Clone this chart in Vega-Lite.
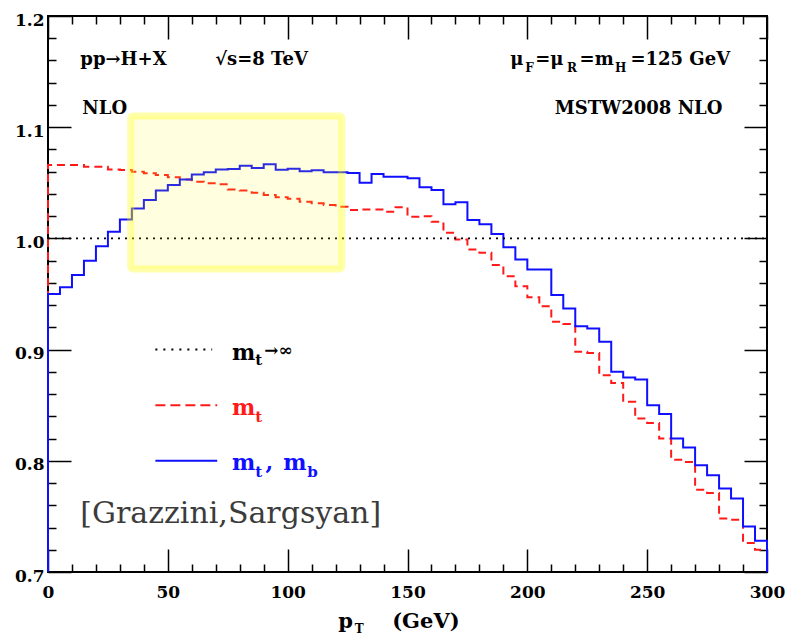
{
  "$schema": "https://vega.github.io/schema/vega-lite/v6.json",
  "width": 719,
  "height": 556,
  "autosize": {"type": "none"},
  "padding": {"left": 48, "top": 16, "right": 20, "bottom": 66},
  "background": "white",
  "config": {
    "view": {"stroke": "black", "strokeWidth": 2},
    "axis": {"domain": false, "grid": false, "title": null, "tickColor": "black", "tickWidth": 1.5, "labelFont": "DejaVu Serif", "labelFontWeight": "bold", "labelFontSize": 17, "labelColor": "black", "labelFlush": false, "labelOverlap": false},
    "text": {"font": "DejaVu Serif"}
  },
  "resolve": {"axis": {"x": "independent", "y": "independent"}},
  "datasets": {
    "red": [
      {"i":0,"x":0,"y":0.7},{"i":1,"x":0,"y":1.066},{"i":2,"x":5,"y":1.066},{"i":3,"x":10,"y":1.066},{"i":4,"x":15,"y":1.0645},{"i":5,"x":20,"y":1.0645},{"i":6,"x":25,"y":1.062},{"i":7,"x":30,"y":1.0615},{"i":8,"x":35,"y":1.060},{"i":9,"x":40,"y":1.0585},{"i":10,"x":45,"y":1.057},{"i":11,"x":50,"y":1.055},{"i":12,"x":55,"y":1.053},{"i":13,"x":60,"y":1.051},{"i":14,"x":65,"y":1.0495},{"i":15,"x":70,"y":1.0486},{"i":16,"x":75,"y":1.044},{"i":17,"x":80,"y":1.043},{"i":18,"x":85,"y":1.041},{"i":19,"x":90,"y":1.039},{"i":20,"x":95,"y":1.037},{"i":21,"x":100,"y":1.0357},{"i":22,"x":105,"y":1.033},{"i":23,"x":110,"y":1.0316},{"i":24,"x":115,"y":1.030},{"i":25,"x":120,"y":1.0285},{"i":26,"x":125,"y":1.0255},{"i":27,"x":130,"y":1.026},{"i":28,"x":135,"y":1.026},{"i":29,"x":140,"y":1.024},{"i":30,"x":145,"y":1.028},{"i":31,"x":150,"y":1.0195},{"i":32,"x":155,"y":1.020},{"i":33,"x":160,"y":1.015},{"i":34,"x":165,"y":1.005},{"i":35,"x":170,"y":0.999},{"i":36,"x":175,"y":0.990},{"i":37,"x":180,"y":0.987},{"i":38,"x":185,"y":0.976},{"i":39,"x":190,"y":0.966},{"i":40,"x":195,"y":0.957},{"i":41,"x":200,"y":0.947},{"i":42,"x":205,"y":0.939},{"i":43,"x":210,"y":0.925},{"i":44,"x":215,"y":0.923},{"i":45,"x":220,"y":0.898},{"i":46,"x":225,"y":0.897},{"i":47,"x":230,"y":0.877},{"i":48,"x":235,"y":0.870},{"i":49,"x":240,"y":0.853},{"i":50,"x":245,"y":0.838},{"i":51,"x":250,"y":0.834},{"i":52,"x":255,"y":0.820},{"i":53,"x":260,"y":0.801},{"i":54,"x":265,"y":0.799},{"i":55,"x":270,"y":0.774},{"i":56,"x":275,"y":0.771},{"i":57,"x":280,"y":0.748},{"i":58,"x":285,"y":0.747},{"i":59,"x":290,"y":0.726},{"i":60,"x":295,"y":0.720},{"i":61,"x":300,"y":0.720},{"i":62,"x":300,"y":0.7}
    ],
    "blue": [
      {"i":0,"x":0,"y":0.7},{"i":1,"x":0,"y":0.950},{"i":2,"x":5,"y":0.956},{"i":3,"x":10,"y":0.967},{"i":4,"x":15,"y":0.980},{"i":5,"x":20,"y":0.993},{"i":6,"x":25,"y":1.006},{"i":7,"x":30,"y":1.017},{"i":8,"x":35,"y":1.027},{"i":9,"x":40,"y":1.0345},{"i":10,"x":45,"y":1.043},{"i":11,"x":50,"y":1.048},{"i":12,"x":55,"y":1.053},{"i":13,"x":60,"y":1.0575},{"i":14,"x":65,"y":1.0595},{"i":15,"x":70,"y":1.062},{"i":16,"x":75,"y":1.0624},{"i":17,"x":80,"y":1.0654},{"i":18,"x":85,"y":1.0633},{"i":19,"x":90,"y":1.0666},{"i":20,"x":95,"y":1.0618},{"i":21,"x":100,"y":1.0627},{"i":22,"x":105,"y":1.0603},{"i":23,"x":110,"y":1.0612},{"i":24,"x":115,"y":1.0594},{"i":25,"x":120,"y":1.0594},{"i":26,"x":125,"y":1.0588},{"i":27,"x":130,"y":1.050},{"i":28,"x":135,"y":1.058},{"i":29,"x":140,"y":1.0555},{"i":30,"x":145,"y":1.0555},{"i":31,"x":150,"y":1.054},{"i":32,"x":155,"y":1.046},{"i":33,"x":160,"y":1.0435},{"i":34,"x":165,"y":1.0307},{"i":35,"x":170,"y":1.0325},{"i":36,"x":175,"y":1.0165},{"i":37,"x":180,"y":1.0127},{"i":38,"x":185,"y":1.004},{"i":39,"x":190,"y":0.992},{"i":40,"x":195,"y":0.981},{"i":41,"x":200,"y":0.972},{"i":42,"x":205,"y":0.972},{"i":43,"x":210,"y":0.949},{"i":44,"x":215,"y":0.937},{"i":45,"x":220,"y":0.921},{"i":46,"x":225,"y":0.919},{"i":47,"x":230,"y":0.907},{"i":48,"x":235,"y":0.880},{"i":49,"x":240,"y":0.875},{"i":50,"x":245,"y":0.873},{"i":51,"x":250,"y":0.850},{"i":52,"x":255,"y":0.842},{"i":53,"x":260,"y":0.820},{"i":54,"x":265,"y":0.812},{"i":55,"x":270,"y":0.796},{"i":56,"x":275,"y":0.787},{"i":57,"x":280,"y":0.775},{"i":58,"x":285,"y":0.766},{"i":59,"x":290,"y":0.741},{"i":60,"x":295,"y":0.728},{"i":61,"x":300,"y":0.728},{"i":62,"x":300,"y":0.7}
    ]
  },
  "layer": [
    {
      "data": {"name": "red"},
      "mark": {"type": "line", "interpolate": "step-after", "stroke": "#ff1a1a", "strokeWidth": 2, "strokeDash": [8, 5]},
      "encoding": {
        "x": {"field": "x", "type": "quantitative", "scale": {"domain": [0, 300], "nice": false, "zero": false},
              "axis": {"orient": "bottom", "values": [0, 50, 100, 150, 200, 250, 300], "ticks": false, "labelPadding": 12}},
        "y": {"field": "y", "type": "quantitative", "scale": {"domain": [0.7, 1.2], "nice": false, "zero": false},
              "axis": {"orient": "left", "values": [0.7, 0.8, 0.9, 1.0, 1.1, 1.2], "ticks": false, "labelPadding": 4, "labelOffset": 4, "format": ".1f"}},
        "order": {"field": "i", "type": "quantitative"}
      }
    },
    {
      "data": {"name": "blue"},
      "mark": {"type": "line", "interpolate": "step-after", "stroke": "#1010ff", "strokeWidth": 2},
      "encoding": {
        "x": {"field": "x", "type": "quantitative", "scale": {"domain": [0, 300], "nice": false, "zero": false},
              "axis": {"orient": "top", "values": [0, 50, 100, 150, 200, 250, 300], "tickSize": -23, "labels": false}},
        "y": {"field": "y", "type": "quantitative", "scale": {"domain": [0.7, 1.2], "nice": false, "zero": false},
              "axis": {"orient": "right", "values": [0.7, 0.8, 0.9, 1.0, 1.1, 1.2], "tickSize": -23, "labels": false}},
        "order": {"field": "i", "type": "quantitative"}
      }
    },
    {
      "data": {"values": [{"x": 0, "x2": 300, "y": 1.0}]},
      "mark": {"type": "rule", "stroke": "black", "strokeWidth": 1.8, "strokeDash": [2, 5]},
      "encoding": {
        "x": {"field": "x", "type": "quantitative", "scale": {"domain": [0, 300], "nice": false, "zero": false},
              "axis": {"orient": "bottom", "values": [0, 50, 100, 150, 200, 250, 300], "tickSize": -23, "labels": false}},
        "x2": {"field": "x2"},
        "y": {"field": "y", "type": "quantitative", "scale": {"domain": [0.7, 1.2], "nice": false, "zero": false},
              "axis": {"orient": "left", "values": [0.7, 0.8, 0.9, 1.0, 1.1, 1.2], "tickSize": -23, "labels": false}}
      }
    },
    {
      "data": {"values": [
        {"s": "inf", "x": 44.8, "x2": 68.5, "y": 0.9},
        {"s": "mt", "x": 44.8, "x2": 70.6, "y": 0.85},
        {"s": "mtmb", "x": 44.8, "x2": 70.6, "y": 0.8}
      ]},
      "mark": {"type": "rule", "strokeWidth": 2},
      "encoding": {
        "x": {"field": "x", "type": "quantitative", "scale": {"domain": [0, 300], "nice": false, "zero": false},
              "axis": {"orient": "bottom", "values": [10,20,30,40,60,70,80,90,110,120,130,140,160,170,180,190,210,220,230,240,260,270,280,290], "tickSize": -8, "labels": false}},
        "x2": {"field": "x2"},
        "y": {"field": "y", "type": "quantitative", "scale": {"domain": [0.7, 1.2], "nice": false, "zero": false},
              "axis": {"orient": "left", "values": [0.72,0.74,0.76,0.78,0.82,0.84,0.86,0.88,0.92,0.94,0.96,0.98,1.02,1.04,1.06,1.08,1.12,1.14,1.16,1.18], "tickSize": -8, "labels": false}},
        "color": {"field": "s", "type": "nominal", "scale": {"domain": ["inf", "mt", "mtmb"], "range": ["black", "#ff1a1a", "#1010ff"]}, "legend": null},
        "strokeDash": {"field": "s", "type": "nominal", "scale": {"domain": ["inf", "mt", "mtmb"], "range": [[2, 6], [10, 5], [1, 0]]}, "legend": null}
      }
    },
    {
      "data": {"values": [{"x": 34.5, "x2": 122.6, "y": 0.9725, "y2": 1.110}]},
      "mark": {"type": "rect", "fill": "#ffff00", "fillOpacity": 0.12, "stroke": "#ffff00", "strokeOpacity": 0.33, "strokeWidth": 7, "cornerRadius": 2},
      "encoding": {
        "x": {"field": "x", "type": "quantitative", "scale": {"domain": [0, 300], "nice": false, "zero": false},
              "axis": {"orient": "top", "values": [10,20,30,40,60,70,80,90,110,120,130,140,160,170,180,190,210,220,230,240,260,270,280,290], "tickSize": -8, "labels": false}},
        "x2": {"field": "x2"},
        "y": {"field": "y", "type": "quantitative", "scale": {"domain": [0.7, 1.2], "nice": false, "zero": false},
              "axis": {"orient": "right", "values": [0.72,0.74,0.76,0.78,0.82,0.84,0.86,0.88,0.92,0.94,0.96,0.98,1.02,1.04,1.06,1.08,1.12,1.14,1.16,1.18], "tickSize": -8, "labels": false}},
        "y2": {"field": "y2"}
      }
    },
    {
      "data": {"values": [
        {"x": 13.5, "y": 1.1559, "t": "pp→H+X"},
        {"x": 69.8, "y": 1.1559, "t": "√s=8 TeV"},
        {"x": 14.3, "y": 1.1119, "t": "NLO"},
        {"x": 192.9, "y": 1.1559, "t": "μ"},
        {"x": 203.3, "y": 1.1559, "t": "=μ"},
        {"x": 221.8, "y": 1.1559, "t": "=m"},
        {"x": 243.0, "y": 1.1559, "t": "=125 GeV"}
      ]},
      "mark": {"type": "text", "align": "left", "baseline": "alphabetic", "fontSize": 18, "fontWeight": "bold", "color": "black"},
      "encoding": {
        "x": {"field": "x", "type": "quantitative", "scale": {"domain": [0, 300], "nice": false, "zero": false}, "axis": null},
        "y": {"field": "y", "type": "quantitative", "scale": {"domain": [0.7, 1.2], "nice": false, "zero": false}, "axis": null},
        "text": {"field": "t"}
      }
    },
    {
      "data": {"values": [
        {"x": 121.1, "y": 0.6496, "t": "p"},
        {"x": 143.6, "y": 0.6496, "t": "(GeV)"}
      ]},
      "mark": {"type": "text", "align": "left", "baseline": "alphabetic", "fontSize": 21, "fontWeight": "bold", "color": "black"},
      "encoding": {
        "x": {"field": "x", "type": "quantitative", "scale": {"domain": [0, 300], "nice": false, "zero": false}, "axis": null},
        "y": {"field": "y", "type": "quantitative", "scale": {"domain": [0.7, 1.2], "nice": false, "zero": false}, "axis": null},
        "text": {"field": "t"}
      }
    },
    {
      "data": {"values": [{"x": 281.4, "y": 1.1119, "t": "MSTW2008 NLO"}]},
      "mark": {"type": "text", "align": "right", "baseline": "alphabetic", "fontSize": 18, "fontWeight": "bold", "color": "black"},
      "encoding": {
        "x": {"field": "x", "type": "quantitative", "scale": {"domain": [0, 300], "nice": false, "zero": false}, "axis": null},
        "y": {"field": "y", "type": "quantitative", "scale": {"domain": [0.7, 1.2], "nice": false, "zero": false}, "axis": null},
        "text": {"field": "t"}
      }
    },
    {
      "data": {"values": [
        {"x": 199.1, "y": 1.1499, "t": "F"},
        {"x": 216.6, "y": 1.1499, "t": "R"},
        {"x": 236.6, "y": 1.1499, "t": "H"},
        {"x": 128.0, "y": 0.6451, "t": "T"}
      ]},
      "mark": {"type": "text", "align": "left", "baseline": "alphabetic", "fontSize": 12, "fontWeight": "bold", "color": "black"},
      "encoding": {
        "x": {"field": "x", "type": "quantitative", "scale": {"domain": [0, 300], "nice": false, "zero": false}, "axis": null},
        "y": {"field": "y", "type": "quantitative", "scale": {"domain": [0.7, 1.2], "nice": false, "zero": false}, "axis": null},
        "text": {"field": "t"}
      }
    },
    {
      "data": {"values": [
        {"s": "inf", "x": 76.8, "y": 0.8906, "t": "m"},
        {"s": "mt", "x": 76.8, "y": 0.8412, "t": "m"},
        {"s": "mtmb", "x": 76.8, "y": 0.7914, "t": "m"},
        {"s": "mtmb", "x": 90.7, "y": 0.7914, "t": ","},
        {"s": "mtmb", "x": 98.2, "y": 0.7914, "t": "m"}
      ]},
      "mark": {"type": "text", "align": "left", "baseline": "alphabetic", "fontSize": 22, "fontWeight": "bold"},
      "encoding": {
        "x": {"field": "x", "type": "quantitative", "scale": {"domain": [0, 300], "nice": false, "zero": false}, "axis": null},
        "y": {"field": "y", "type": "quantitative", "scale": {"domain": [0.7, 1.2], "nice": false, "zero": false}, "axis": null},
        "text": {"field": "t"},
        "color": {"field": "s", "type": "nominal", "scale": {"domain": ["inf", "mt", "mtmb"], "range": ["black", "#ff1a1a", "#1010ff"]}, "legend": null}
      }
    },
    {
      "data": {"values": [
        {"s": "inf", "x": 86.5, "y": 0.8861, "t": "t"},
        {"s": "mt", "x": 86.5, "y": 0.8352, "t": "t"},
        {"s": "mtmb", "x": 86.5, "y": 0.7857, "t": "t"},
        {"s": "mtmb", "x": 108.2, "y": 0.7857, "t": "b"}
      ]},
      "mark": {"type": "text", "align": "left", "baseline": "alphabetic", "fontSize": 15, "fontWeight": "bold"},
      "encoding": {
        "x": {"field": "x", "type": "quantitative", "scale": {"domain": [0, 300], "nice": false, "zero": false}, "axis": null},
        "y": {"field": "y", "type": "quantitative", "scale": {"domain": [0.7, 1.2], "nice": false, "zero": false}, "axis": null},
        "text": {"field": "t"},
        "color": {"field": "s", "type": "nominal", "scale": {"domain": ["inf", "mt", "mtmb"], "range": ["black", "#ff1a1a", "#1010ff"]}, "legend": null}
      }
    },
    {
      "data": {"values": [{"x": 90.2, "y": 0.8942, "t": "→∞"}]},
      "mark": {"type": "text", "align": "left", "baseline": "alphabetic", "fontSize": 17, "fontWeight": "bold", "color": "black"},
      "encoding": {
        "x": {"field": "x", "type": "quantitative", "scale": {"domain": [0, 300], "nice": false, "zero": false}, "axis": null},
        "y": {"field": "y", "type": "quantitative", "scale": {"domain": [0.7, 1.2], "nice": false, "zero": false}, "axis": null},
        "text": {"field": "t"}
      }
    },
    {
      "data": {"values": [{"x": 13.5, "y": 0.7438, "t": "[Grazzini,Sargsyan]"}]},
      "mark": {"type": "text", "align": "left", "baseline": "alphabetic", "fontSize": 30, "fontWeight": "normal", "color": "#3c3c3c"},
      "encoding": {
        "x": {"field": "x", "type": "quantitative", "scale": {"domain": [0, 300], "nice": false, "zero": false}, "axis": null},
        "y": {"field": "y", "type": "quantitative", "scale": {"domain": [0.7, 1.2], "nice": false, "zero": false}, "axis": null},
        "text": {"field": "t"}
      }
    }
  ]
}
